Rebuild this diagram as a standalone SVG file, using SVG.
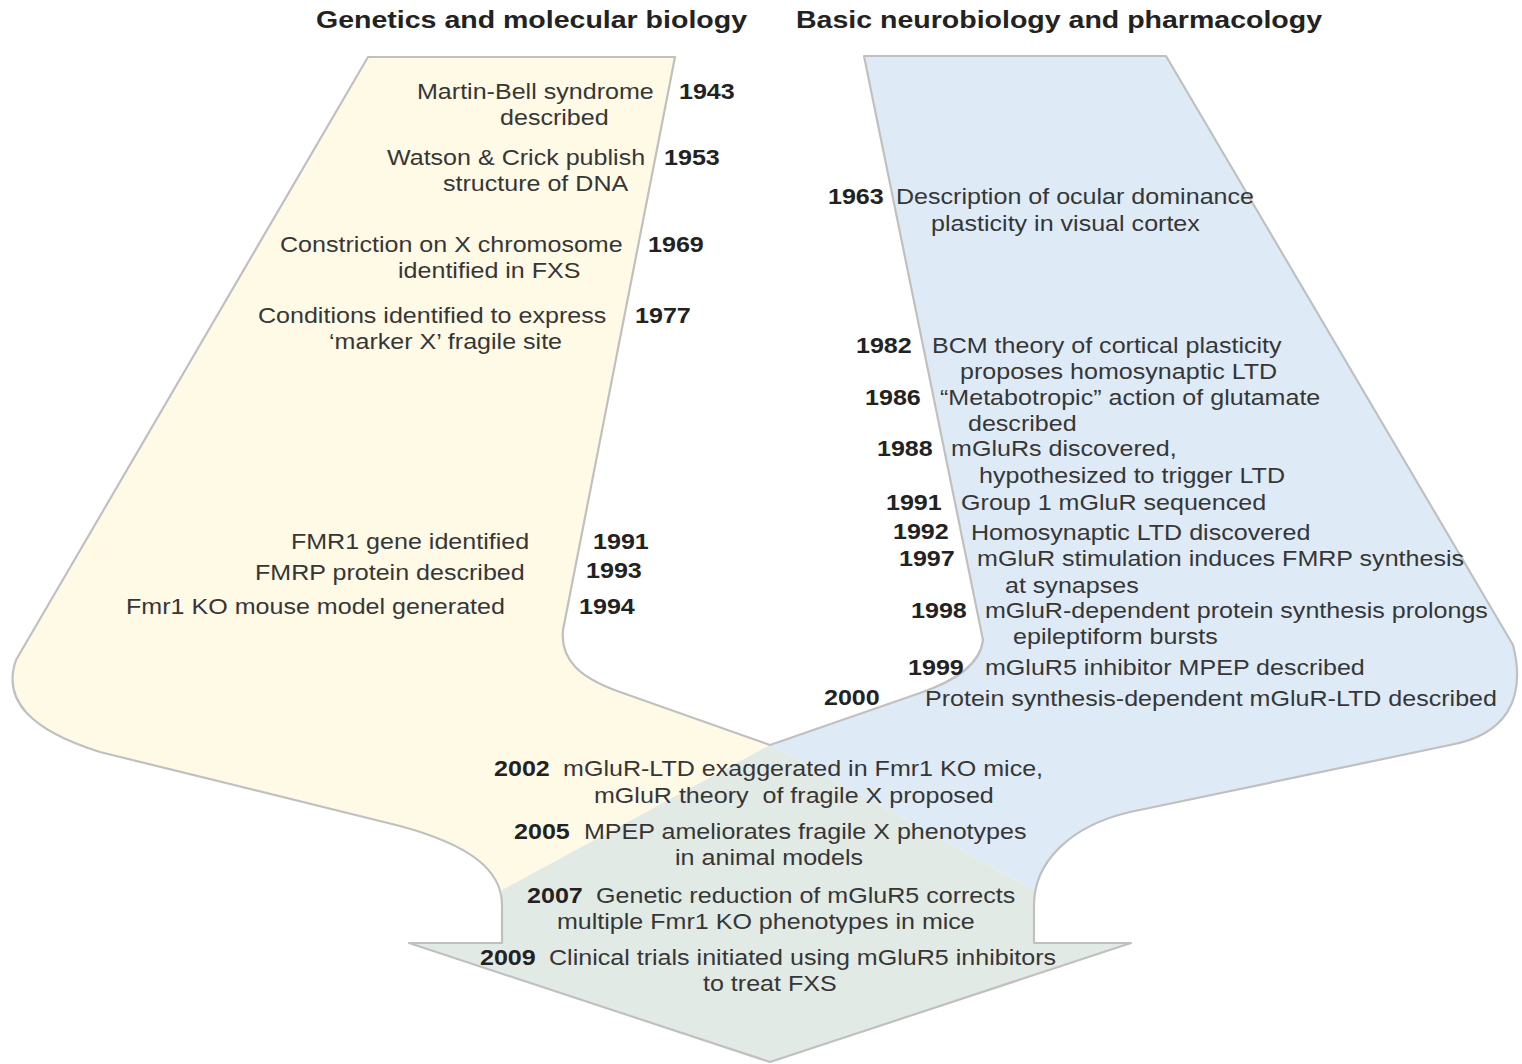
<svg xmlns="http://www.w3.org/2000/svg" width="1522" height="1064" viewBox="0 0 1522 1064">
<style>
.t{font-family:"Liberation Sans",Arial,sans-serif;font-size:21.8px;fill:#363636}
.y{font-weight:bold;fill:#222}
.h{font-family:"Liberation Sans",Arial,sans-serif;font-weight:bold;font-size:24.8px;fill:#222}
.pre{white-space:pre}
.edge{fill:none;stroke:#c0c0c0;stroke-width:2.2;stroke-linejoin:round}
</style>
<rect width="1522" height="1064" fill="#ffffff"/>
<g id="shapes">
<path id="genetics-band" fill="#fefae6" d="M368,57 L675,57 L563,630 C560,660 580,678 620,692 L770,745 L502,890 L502,905 C502,870 470,845 400,826 L100,752 C30,730 2,700 16,660 Z"/>
<path id="neuro-band" fill="#deebf7" d="M864,56 L1166,56 L1513,645 C1527,700 1505,735 1450,745 L1130,812 C1070,826 1034,862 1034,905 L1034,890 L770,745 L920,693 C955,681 980,665 983,640 Z"/>
<path id="merge-arrow" fill="#e2eae5" d="M770,745 L502,890 L502,943 L409,943 L770,1062 L1131,943 L1034,943 L1034,890 Z"/>
<path class="edge" d="M675,57 L368,57 L16,660 C2,700 30,730 100,752 L400,826 C470,845 502,870 502,905 L502,943 L409,943 L770,1062 L1131,943 L1034,943 L1034,905 C1034,862 1070,826 1130,812 L1450,745 C1505,735 1527,700 1513,645 L1166,56 L864,56 L983,640 C980,665 955,681 920,693 L770,745 L620,692 C580,678 560,660 563,630 Z"/>
</g>
<g id="labels" transform="scale(1.15 1)">
<text class="h" x="274.8" y="28.5">Genetics and molecular biology</text>
<text class="h" x="692.2" y="28.5">Basic neurobiology and pharmacology</text>

<g id="genetics">
<text class="t" x="362.6" y="99">Martin-Bell syndrome</text>
<text class="t" x="434.8" y="125">described</text>
<text class="t y" x="590.4" y="99">1943</text>
<text class="t" x="336.5" y="165">Watson &amp; Crick publish</text>
<text class="t" x="385.2" y="191">structure of DNA</text>
<text class="t y" x="577.4" y="165">1953</text>
<text class="t" x="243.5" y="252">Constriction on X chromosome</text>
<text class="t" x="346.1" y="278">identified in FXS</text>
<text class="t y" x="563.5" y="252">1969</text>
<text class="t" x="224.3" y="323">Conditions identified to express</text>
<text class="t" x="286.1" y="349">‘marker X’ fragile site</text>
<text class="t y" x="552.2" y="323">1977</text>
<text class="t" x="253" y="549">FMR1 gene identified</text>
<text class="t y" x="515.7" y="549">1991</text>
<text class="t" x="221.7" y="580">FMRP protein described</text>
<text class="t y" x="509.6" y="578">1993</text>
<text class="t" x="109.6" y="614">Fmr1 KO mouse model generated</text>
<text class="t y" x="503.5" y="614">1994</text>
</g>

<g id="neuro">
<text class="t y" x="720" y="204">1963</text>
<text class="t" x="779.1" y="204">Description of ocular dominance</text>
<text class="t" x="809.6" y="231">plasticity in visual cortex</text>
<text class="t y" x="744.3" y="353">1982</text>
<text class="t" x="810.4" y="353">BCM theory of cortical plasticity</text>
<text class="t" x="834.8" y="379">proposes homosynaptic LTD</text>
<text class="t y" x="752.2" y="405">1986</text>
<text class="t" x="817.4" y="405">“Metabotropic” action of glutamate</text>
<text class="t" x="841.7" y="431">described</text>
<text class="t y" x="762.6" y="456">1988</text>
<text class="t" x="827" y="456">mGluRs discovered,</text>
<text class="t" x="851.3" y="483">hypothesized to trigger LTD</text>
<text class="t y" x="770.4" y="510">1991</text>
<text class="t" x="835.7" y="510">Group 1 mGluR sequenced</text>
<text class="t y" x="776.5" y="539">1992</text>
<text class="t" x="844.3" y="540">Homosynaptic LTD discovered</text>
<text class="t y" x="781.7" y="566">1997</text>
<text class="t" x="849.6" y="566">mGluR stimulation induces FMRP synthesis</text>
<text class="t" x="873.9" y="593">at synapses</text>
<text class="t y" x="792.2" y="618">1998</text>
<text class="t" x="856.5" y="618">mGluR-dependent protein synthesis prolongs</text>
<text class="t" x="880.9" y="644">epileptiform bursts</text>
<text class="t y" x="789.6" y="675">1999</text>
<text class="t" x="856.5" y="675">mGluR5 inhibitor MPEP described</text>
<text class="t y" x="716.5" y="705">2000</text>
<text class="t" x="804.3" y="706">Protein synthesis-dependent mGluR-LTD described</text>
</g>

<g id="fragile-x">
<text class="t y" x="429.6" y="776">2002</text>
<text class="t" x="489.6" y="776">mGluR-LTD exaggerated in Fmr1 KO mice,</text>
<text class="t pre" x="516.5" y="803">mGluR theory  of fragile X proposed</text>
<text class="t y" x="447" y="839">2005</text>
<text class="t" x="507.8" y="839">MPEP ameliorates fragile X phenotypes</text>
<text class="t" x="587" y="865">in animal models</text>
<text class="t y" x="458.3" y="903">2007</text>
<text class="t" x="518.3" y="903">Genetic reduction of mGluR5 corrects</text>
<text class="t" x="484.3" y="929">multiple Fmr1 KO phenotypes in mice</text>
<text class="t y" x="417.4" y="965">2009</text>
<text class="t" x="477.4" y="965">Clinical trials initiated using mGluR5 inhibitors</text>
<text class="t" x="611.3" y="991">to treat FXS</text>
</g>
</g>
</svg>
